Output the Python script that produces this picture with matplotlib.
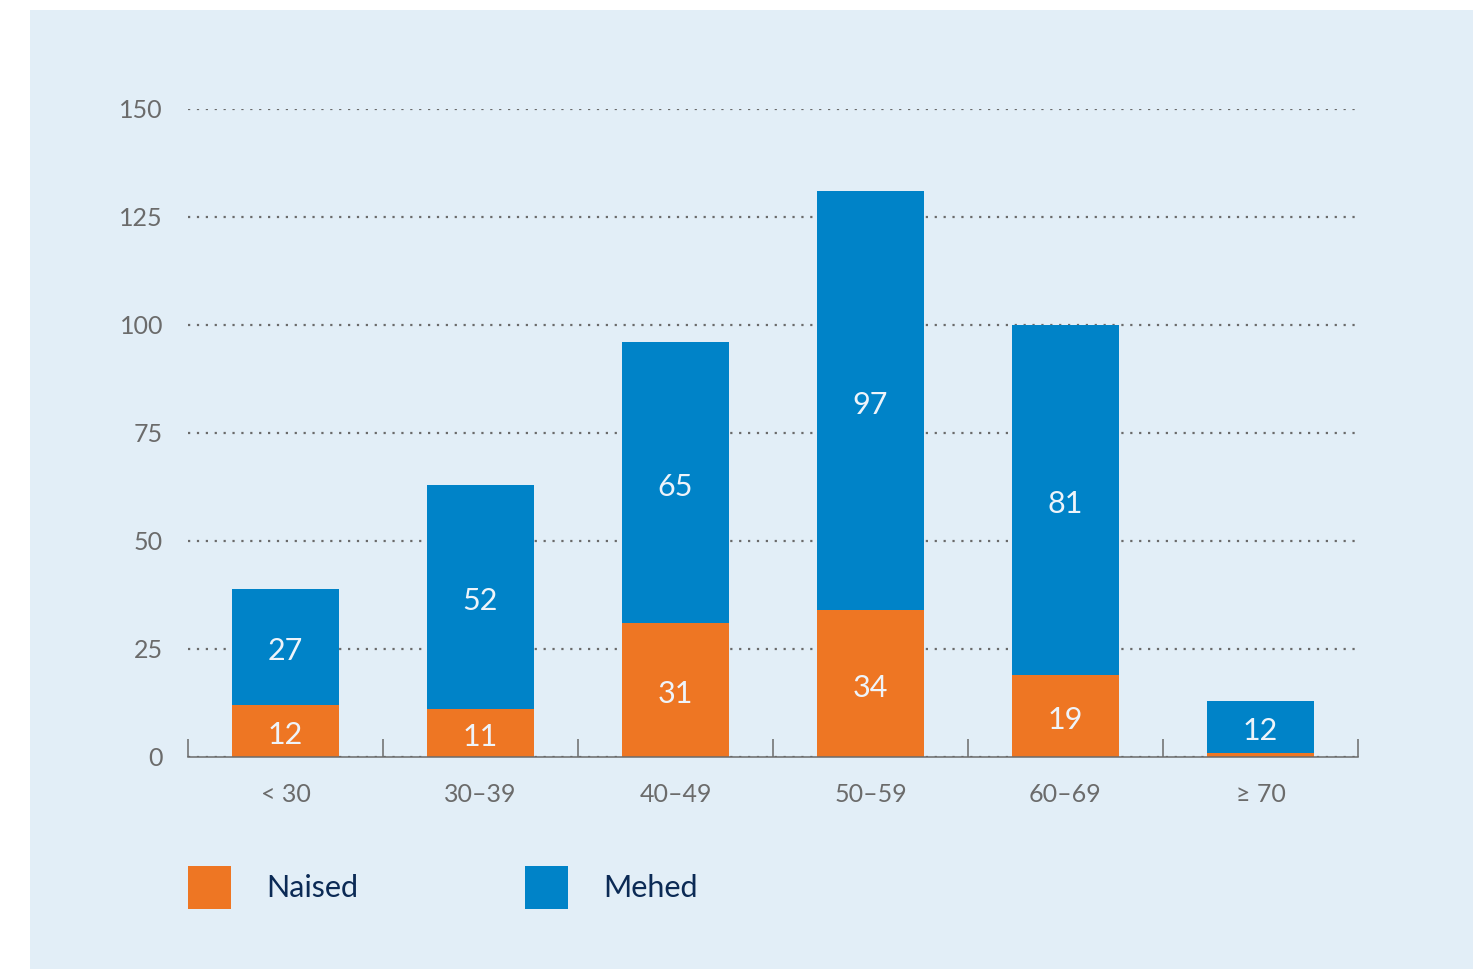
import numpy as np
import matplotlib.pyplot as plt
from matplotlib.patches import Rectangle

# Data
categories = ['< 30', '30–39', '40–49', '50–59', '60–69', '≥ 70']
naised = [12, 11, 31, 34, 19, 1]
mehed = [27, 52, 65, 97, 81, 12]
series_names = ['Naised', 'Mehed']
series_colors = ['#EE7623', '#0083C8']
y_ticks = [0, 25, 50, 75, 100, 125, 150]

plt.rcParams['font.family'] = ['Lato', 'DejaVu Sans']

fig = plt.figure(figsize=(14.73, 9.69), dpi=100)
fig.patch.set_facecolor('white')

# light blue panel behind everything
fig.add_artist(Rectangle((30 / 1473, 0), 1 - 30 / 1473, 1 - 10 / 969,
                         transform=fig.transFigure, facecolor='#E2EEF7',
                         edgecolor='none', zorder=-10))

ax = fig.add_axes([188 / 1473, 1 - 757 / 969, 1170 / 1473, 648 / 969])
ax.set_facecolor('none')

x = np.arange(len(categories))
w = 0.55
b1 = ax.bar(x, naised, w, color=series_colors[0], zorder=3)
b2 = ax.bar(x, mehed, w, bottom=naised, color=series_colors[1], zorder=3)

# value labels in the middle of each segment (skip the tiny sliver)
for vals, bottoms in [(naised, [0] * len(naised)), (mehed, naised)]:
    for xi, v, b in zip(x, vals, bottoms):
        if v >= 3:
            ax.annotate(str(v), (xi, b + v / 2), xytext=(0, -3),
                        textcoords='offset points', ha='center', va='center',
                        color='#EEF4FA', fontsize=22, zorder=5)

ax.set_xlim(-0.5, len(categories) - 0.5)
ax.set_ylim(0, 150)
ax.set_yticks(y_ticks)
ax.set_xticks(x)
ax.set_xticklabels(categories)
ax.set_xticks(np.arange(len(categories) + 1) - 0.5, minor=True)

ax.tick_params(axis='y', length=0, pad=18, labelsize=18, labelcolor='#6B6B6B')
ax.tick_params(axis='x', which='major', length=0, pad=19, labelsize=18,
               labelcolor='#6B6B6B')
ax.tick_params(axis='x', which='minor', direction='in', length=13,
               width=1.1, color='#6B6B6B')

ax.grid(axis='y', color='#6A6A6A', linestyle=(0, (1, 3)), linewidth=1.6)
ax.set_axisbelow(True)

for s in ['top', 'right', 'left']:
    ax.spines[s].set_visible(False)
ax.spines['bottom'].set_color('#6B6B6B')
ax.spines['bottom'].set_linewidth(1.1)
ax.spines['bottom'].set_zorder(4)

# legend drawn by hand
legend_x = [188, 525]
for name, col, lx in zip(series_names, series_colors, legend_x):
    fig.add_artist(Rectangle((lx / 1473, 1 - 909 / 969), 43 / 1473, 43 / 969,
                             transform=fig.transFigure, facecolor=col,
                             edgecolor='none'))
    fig.text((lx + 78) / 1473, 1 - 888 / 969, name, fontsize=22,
             color='#0B2A55', va='center', ha='left')

fig.savefig('out.png', dpi=100)
